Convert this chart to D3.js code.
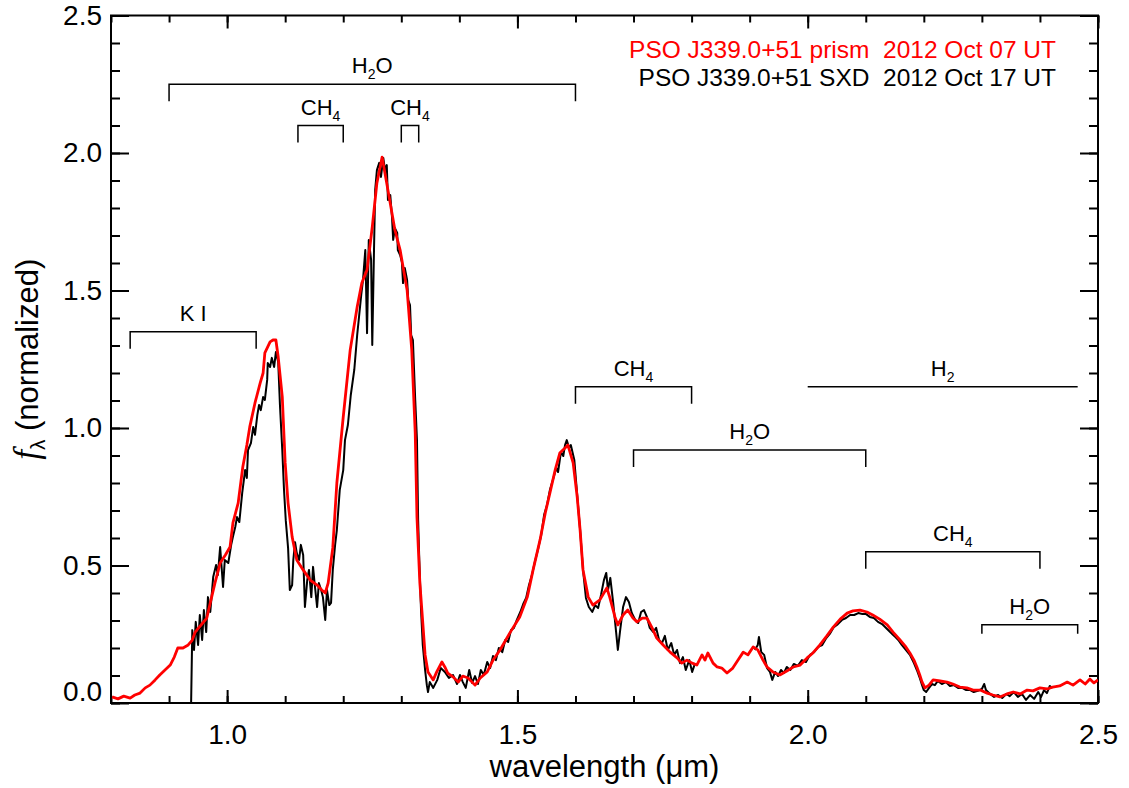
<!DOCTYPE html>
<html>
<head>
<meta charset="utf-8">
<script src="https://cdn.jsdelivr.net/npm/d3@7"></script>
<style>
body { margin: 0; background: #fff; }
text { font-family: "Liberation Sans", Arial, sans-serif; }
</style>
</head>
<body>
<div id="chart"></div>
<script>
// prism spectrum, 2012 Oct 07 (wavelength in micron, normalized flux)
var prism = [
  [0.802,0.022],[0.812,0.015],[0.822,0.025],[0.833,0.018],[0.841,0.029],[0.850,0.036],[0.859,0.055],
  [0.867,0.065],[0.876,0.084],[0.884,0.102],[0.893,0.120],[0.902,0.138],[0.909,0.167],[0.915,0.200],
  [0.924,0.200],[0.933,0.211],[0.940,0.229],[0.945,0.258],[0.952,0.276],[0.958,0.291],[0.965,0.309],
  [0.971,0.364],[0.979,0.436],[0.988,0.509],[0.997,0.538],[1.005,0.567],[1.010,0.655],[1.019,0.727],
  [1.027,0.858],[1.034,0.938],[1.039,1.004],[1.048,1.091],[1.057,1.164],[1.062,1.200],[1.065,1.273],
  [1.074,1.313],[1.079,1.320],[1.084,1.320],[1.088,1.258],[1.095,1.113],[1.100,0.873],[1.105,0.727],
  [1.112,0.604],[1.120,0.520],[1.131,0.484],[1.143,0.447],[1.155,0.429],[1.163,0.411],[1.169,0.400],
  [1.174,0.436],[1.182,0.564],[1.189,0.800],[1.200,1.040],[1.212,1.284],[1.224,1.440],[1.232,1.527],
  [1.241,1.575],[1.250,1.731],[1.258,1.891],[1.267,1.985],[1.277,1.865],[1.289,1.720],[1.298,1.647],
  [1.310,1.502],[1.318,1.284],[1.324,0.982],[1.327,0.676],[1.332,0.436],[1.337,0.291],[1.341,0.175],
  [1.346,0.113],[1.355,0.084],[1.361,0.113],[1.370,0.149],[1.375,0.131],[1.380,0.109],[1.389,0.095],
  [1.398,0.076],[1.406,0.098],[1.415,0.091],[1.427,0.065],[1.436,0.091],[1.448,0.113],[1.458,0.156],
  [1.470,0.193],[1.487,0.255],[1.504,0.313],[1.517,0.385],[1.527,0.484],[1.539,0.593],[1.548,0.691],
  [1.556,0.764],[1.565,0.847],[1.573,0.909],[1.582,0.927],[1.587,0.938],[1.596,0.873],[1.603,0.749],
  [1.608,0.629],[1.613,0.484],[1.622,0.385],[1.630,0.356],[1.642,0.375],[1.654,0.418],[1.659,0.385],
  [1.668,0.313],[1.673,0.284],[1.682,0.320],[1.690,0.338],[1.699,0.309],[1.706,0.295],[1.715,0.309],
  [1.723,0.309],[1.732,0.273],[1.740,0.236],[1.751,0.211],[1.763,0.185],[1.775,0.164],[1.783,0.145],
  [1.792,0.156],[1.801,0.145],[1.809,0.138],[1.818,0.175],[1.823,0.156],[1.828,0.182],[1.837,0.145],
  [1.844,0.131],[1.852,0.127],[1.861,0.109],[1.871,0.127],[1.880,0.156],[1.889,0.185],[1.897,0.175],
  [1.906,0.204],[1.914,0.193],[1.923,0.156],[1.930,0.131],[1.940,0.113],[1.952,0.102],[1.964,0.116],
  [1.975,0.131],[1.987,0.138],[1.999,0.164],[2.009,0.182],[2.021,0.211],[2.033,0.244],[2.044,0.276],
  [2.056,0.305],[2.068,0.327],[2.078,0.335],[2.090,0.338],[2.102,0.331],[2.112,0.320],[2.124,0.305],
  [2.137,0.284],[2.147,0.258],[2.159,0.229],[2.168,0.207],[2.176,0.182],[2.183,0.156],[2.188,0.131],
  [2.193,0.102],[2.197,0.076],[2.202,0.055],[2.209,0.065],[2.216,0.084],[2.228,0.080],[2.240,0.076],
  [2.250,0.069],[2.262,0.058],[2.274,0.055],[2.285,0.047],[2.297,0.047],[2.309,0.036],[2.319,0.029],
  [2.331,0.022],[2.343,0.033],[2.354,0.040],[2.366,0.033],[2.378,0.047],[2.388,0.044],[2.400,0.055],
  [2.412,0.051],[2.422,0.058],[2.434,0.062],[2.447,0.076],[2.457,0.065],[2.469,0.084],[2.478,0.069],
  [2.486,0.087],[2.493,0.073],[2.500,0.084]
];

// SXD spectrum, 2012 Oct 17 (null = telluric gap)
var sxd = [
  [0.938,0.000],[0.940,0.265],[0.943,0.193],[0.946,0.295],[0.950,0.211],[0.953,0.320],[0.957,0.229],
  [0.960,0.338],[0.964,0.258],[0.967,0.385],[0.971,0.331],[0.976,0.458],[0.981,0.502],[0.984,0.465],
  [0.988,0.567],[0.993,0.422],[0.996,0.520],[1.002,0.509],[1.007,0.575],[1.010,0.604],[1.014,0.640],
  [1.017,0.676],[1.021,0.658],[1.026,0.764],[1.031,0.847],[1.034,0.818],[1.036,0.920],[1.041,0.945],
  [1.045,1.004],[1.048,0.975],[1.052,1.047],[1.055,1.084],[1.058,1.065],[1.062,1.113],[1.065,1.102],
  [1.069,1.175],[1.070,1.236],[1.074,1.222],[1.077,1.255],[1.081,1.222],[1.084,1.276],[1.088,1.240],
  [1.091,1.084],[1.095,0.920],[1.098,0.775],[1.101,0.665],[1.105,0.564],[1.108,0.411],[1.112,0.429],
  [1.114,0.520],[1.117,0.585],[1.120,0.545],[1.124,0.520],[1.127,0.575],[1.131,0.538],[1.134,0.349],
  [1.138,0.447],[1.141,0.484],[1.145,0.385],[1.148,0.495],[1.151,0.429],[1.155,0.349],[1.158,0.436],
  [1.162,0.411],[1.165,0.385],[1.169,0.302],[1.172,0.411],[1.176,0.356],[1.179,0.364],[1.182,0.484],
  [1.186,0.575],[1.189,0.629],[1.194,0.775],[1.200,0.847],[1.203,0.956],[1.208,1.011],[1.213,1.120],
  [1.219,1.211],[1.224,1.338],[1.227,1.400],[1.231,1.484],[1.234,1.538],[1.238,1.647],[1.241,1.345],
  [1.244,1.684],[1.248,1.611],[1.250,1.302],[1.253,1.647],[1.255,1.865],[1.258,1.938],[1.262,1.964],
  [1.265,1.913],[1.269,1.982],[1.272,1.938],[1.275,1.956],[1.277,1.829],[1.281,1.847],[1.284,1.767],
  [1.286,1.684],[1.289,1.727],[1.293,1.709],[1.294,1.647],[1.298,1.629],[1.301,1.604],[1.303,1.527],
  [1.306,1.582],[1.310,1.538],[1.312,1.465],[1.315,1.447],[1.317,1.338],[1.320,1.320],[1.324,1.102],
  [1.327,0.956],[1.329,0.665],[1.331,0.520],[1.334,0.338],[1.337,0.211],[1.341,0.120],[1.344,0.065],
  [1.346,0.040],[1.349,0.076],[1.355,0.055],[1.362,0.084],[1.368,0.127],[1.375,0.113],[1.382,0.091],
  [1.389,0.102],[1.396,0.069],[1.401,0.102],[1.406,0.076],[1.411,0.055],[1.417,0.120],[1.422,0.073],
  [1.427,0.098],[1.432,0.069],[1.437,0.120],[1.442,0.102],[1.448,0.149],[1.453,0.127],[1.458,0.171],
  [1.463,0.156],[1.468,0.200],[1.474,0.185],[1.479,0.229],[1.484,0.222],[1.489,0.265],[1.494,0.273],
  [1.499,0.302],[1.505,0.331],[1.510,0.360],[1.515,0.382],[1.520,0.429],[1.525,0.465],[1.530,0.513],
  [1.536,0.564],[1.541,0.611],[1.546,0.684],[1.551,0.720],[1.556,0.775],[1.561,0.811],[1.567,0.855],
  [1.570,0.840],[1.575,0.913],[1.579,0.898],[1.582,0.938],[1.585,0.956],[1.589,0.927],[1.592,0.938],
  [1.598,0.884],[1.603,0.756],[1.608,0.629],[1.613,0.484],[1.618,0.382],[1.623,0.349],[1.629,0.331],
  [1.634,0.356],[1.639,0.345],[1.644,0.393],[1.649,0.447],[1.653,0.473],[1.656,0.411],[1.660,0.455],
  [1.665,0.364],[1.670,0.258],[1.673,0.193],[1.677,0.265],[1.682,0.349],[1.687,0.385],[1.692,0.367],
  [1.697,0.327],[1.703,0.302],[1.708,0.291],[1.713,0.331],[1.718,0.338],[1.723,0.313],[1.728,0.273],
  [1.734,0.258],[1.739,0.273],[1.744,0.229],[1.749,0.218],[1.754,0.244],[1.759,0.193],[1.765,0.218],
  [1.770,0.175],[1.775,0.193],[1.780,0.145],[1.785,0.167],[1.790,0.120],[1.796,0.156],[1.801,0.113],
  [1.806,0.145],[1.850,null],
  [1.909,0.193],[1.914,0.211],[1.916,0.240],[1.920,0.185],[1.925,0.175],[1.930,0.127],[1.935,0.113],
  [1.939,0.084],[1.944,0.113],[1.949,0.098],[1.954,0.120],[1.959,0.109],[1.964,0.131],[1.970,0.120],
  [1.976,0.142],[1.983,0.135],[1.990,0.156],[1.997,0.149],[2.004,0.175],[2.011,0.185],[2.018,0.204],
  [2.025,0.211],[2.032,0.236],[2.038,0.251],[2.045,0.276],[2.052,0.287],[2.059,0.302],[2.066,0.309],
  [2.073,0.320],[2.080,0.320],[2.087,0.327],[2.094,0.324],[2.100,0.324],[2.107,0.313],[2.114,0.309],
  [2.121,0.295],[2.128,0.287],[2.135,0.273],[2.142,0.258],[2.149,0.244],[2.156,0.229],[2.162,0.211],
  [2.169,0.193],[2.176,0.175],[2.183,0.145],[2.188,0.120],[2.193,0.091],[2.197,0.065],[2.200,0.047],
  [2.204,0.040],[2.209,0.055],[2.214,0.069],[2.219,0.065],[2.224,0.080],[2.231,0.069],[2.238,0.076],
  [2.245,0.062],[2.252,0.065],[2.259,0.055],[2.266,0.055],[2.273,0.047],[2.280,0.047],[2.286,0.040],
  [2.293,0.044],[2.300,0.051],[2.304,0.069],[2.307,0.047],[2.314,0.033],[2.321,0.022],[2.328,0.029],
  [2.335,0.018],[2.342,0.033],[2.348,0.025],[2.355,0.040],[2.362,0.022],[2.369,0.033],[2.376,0.011],
  [2.383,0.029],[2.390,0.015],[2.397,0.040],[2.402,0.022],[2.407,0.047],[2.412,0.036],[2.417,0.062],
  [2.421,0.055]
];

var xTicks = [1.0, 1.5, 2.0, 2.5];
var yTicks = [0.0, 0.5, 1.0, 1.5, 2.0, 2.5];

// absorption band annotations
var bandText  = ["K I", "H_2O", "CH_4", "CH_4", "CH_4", "H_2", "H_2O", "CH_4", "H_2O"];
var bandStart = [0.833, 0.90, 1.122, 1.30, 1.60, 2.00, 1.70, 2.10, 2.30];
var bandEnd   = [1.05, 1.60, 1.20, 1.33, 1.80, 2.465, 2.10, 2.40, 2.465];
var bandLevel = [1.35, 2.25, 2.10, 2.10, 1.15, 1.15, 0.92, 0.55, 0.285];
var bandEnds  = ["long", "long", "long", "long", "long", "none", "long", "long", "short"];

var legendText  = ["PSO J339.0+51 prism  2012 Oct 07 UT", "PSO J339.0+51 SXD  2012 Oct 17 UT"];
var legendColor = ["#ff0000", "#000000"];

var margin = {left: 111, right: 31, top: 15.5, bottom: 85},
    width = 1129 - margin.left - margin.right,
    height = 788 - margin.top - margin.bottom;

var SVG = d3.select("#chart").append("svg")
    .attr("width", width + margin.left + margin.right)
    .attr("height", height + margin.top + margin.bottom);

var svg = SVG.append("g")
    .attr("transform", `translate(${margin.left},${margin.top})`);

var x = d3.scaleLinear().domain([0.8, 2.5]).range([0, width]);
var y = d3.scaleLinear().domain([0, 2.5]).range([height, 0]);

var xMinor = d3.range(8, 26).map(function(i) { return i / 10; });
var yMinor = d3.range(0, 26).map(function(i) { return i / 10; });

function axisStyle(g) {
    g.select(".domain").remove();
    g.selectAll(".tick line").attr("stroke", "#000").attr("stroke-width", 2);
    g.selectAll(".tick text").style("font-size", "28px").style("fill", "#000");
}

// bottom axis
svg.append("g").attr("transform", `translate(0,${height})`)
    .call(d3.axisBottom(x).tickValues(xMinor).tickSize(-7).tickFormat(""))
    .call(axisStyle);
svg.append("g").attr("transform", `translate(0,${height})`)
    .call(d3.axisBottom(x).tickValues(xTicks).tickSize(-13).tickPadding(21).tickFormat(d3.format(".1f")))
    .call(axisStyle);

// top axis
svg.append("g")
    .call(d3.axisTop(x).tickValues(xMinor).tickSize(-7).tickFormat(""))
    .call(axisStyle);
svg.append("g")
    .call(d3.axisTop(x).tickValues(xTicks).tickSize(-13).tickFormat(""))
    .call(axisStyle);

// left axis
svg.append("g")
    .call(d3.axisLeft(y).tickValues(yMinor).tickSize(-9).tickFormat(""))
    .call(axisStyle);
var yAxisG = svg.append("g")
    .call(d3.axisLeft(y).tickValues(yTicks).tickSize(-18).tickPadding(9).tickFormat(d3.format(".1f")))
    .call(axisStyle);
yAxisG.selectAll(".tick text")
    .filter(function(d) { return d === 0; })
    .attr("y", -11);

// right axis
svg.append("g").attr("transform", `translate(${width},0)`)
    .call(d3.axisRight(y).tickValues(yMinor).tickSize(-9).tickFormat(""))
    .call(axisStyle);
svg.append("g").attr("transform", `translate(${width},0)`)
    .call(d3.axisRight(y).tickValues(yTicks).tickSize(-18).tickFormat(""))
    .call(axisStyle);

// frame
svg.append("rect")
    .attr("width", width).attr("height", height)
    .attr("fill", "none").attr("stroke", "#000").attr("stroke-width", 2);

svg.append("clipPath").attr("id", "plotclip")
    .append("rect").attr("width", width).attr("height", height);

var line = d3.line()
    .defined(function(d) { return d[1] !== null; })
    .x(function(d) { return x(d[0]); })
    .y(function(d) { return y(d[1]); });

svg.append("path")
    .datum(sxd)
    .attr("clip-path", "url(#plotclip)")
    .attr("fill", "none")
    .attr("stroke", "#000")
    .attr("stroke-width", 2)
    .attr("stroke-linejoin", "round")
    .attr("d", line);

svg.append("path")
    .datum(prism)
    .attr("clip-path", "url(#plotclip)")
    .attr("fill", "none")
    .attr("stroke", "#ff0000")
    .attr("stroke-width", 2.8)
    .attr("stroke-linejoin", "round")
    .attr("d", line);

// band brackets
function addLabel(sel, str) {
    var parts = str.split("_");
    sel.append("tspan").text(parts[0]);
    for (var i = 1; i < parts.length; i++) {
        sel.append("tspan").attr("dy", 6).style("font-size", "14px").text(parts[i].charAt(0));
        if (parts[i].length > 1) {
            sel.append("tspan").attr("dy", -6).text(parts[i].slice(1));
        }
    }
}

bandText.forEach(function(label, i) {
    var x0 = x(bandStart[i]), x1 = x(bandEnd[i]), yl = y(bandLevel[i]);
    var drop = bandEnds[i] === "long" ? 17 : (bandEnds[i] === "short" ? 9 : 0);
    var pts = drop > 0
        ? [[x0, yl + drop], [x0, yl], [x1, yl], [x1, yl + drop]]
        : [[x0, yl], [x1, yl]];
    svg.append("path")
        .attr("d", d3.line()(pts))
        .attr("fill", "none")
        .attr("stroke", "#000")
        .attr("stroke-width", 1.5);
    var t = svg.append("text")
        .attr("x", (x0 + x1) / 2)
        .attr("y", yl - 11)
        .attr("text-anchor", "middle")
        .style("font-size", "22px")
        .style("fill", "#000");
    addLabel(t, label);
});

// legend
legendText.forEach(function(txt, i) {
    SVG.append("text")
        .attr("x", 1056)
        .attr("y", 58 + i * 28)
        .attr("text-anchor", "end")
        .style("font-size", "24.5px")
        .style("white-space", "pre")
        .style("fill", legendColor[i])
        .text(txt);
});

// axis titles
SVG.append("text")
    .attr("x", margin.left + width / 2)
    .attr("y", 777)
    .attr("text-anchor", "middle")
    .style("font-size", "31px")
    .style("fill", "#000")
    .text("wavelength (\u03bcm)");

var yt = SVG.append("text")
    .attr("transform", `translate(38,${margin.top + height / 2}) rotate(-90)`)
    .attr("text-anchor", "middle")
    .style("font-size", "31px")
    .style("fill", "#000");
yt.append("tspan")
    .style("font-family", "'Liberation Serif', serif")
    .style("font-style", "italic")
    .style("font-size", "35px")
    .text("f");
yt.append("tspan").attr("dy", 7).style("font-size", "21px").text("\u03bb");
yt.append("tspan").attr("dy", -7).text(" (normalized)");
</script>
</body>
</html>
